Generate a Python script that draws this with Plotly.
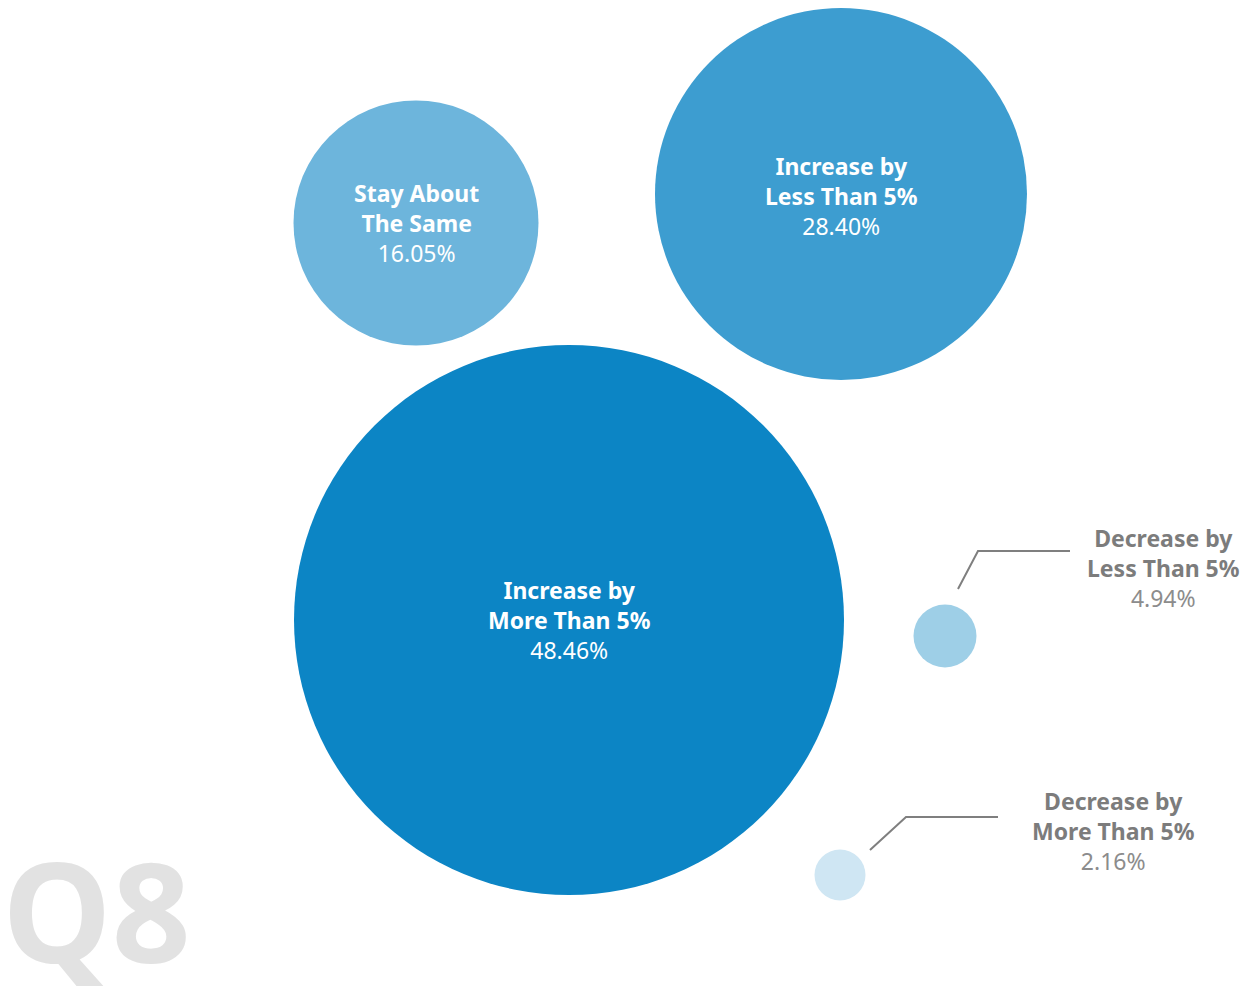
import plotly.graph_objects as go

# ---- data ----
labels = ["Increase by<br>More Than 5%", "Increase by<br>Less Than 5%", "Stay About<br>The Same",
          "Decrease by<br>Less Than 5%", "Decrease by<br>More Than 5%"]
values = [48.46, 28.40, 16.05, 4.94, 2.16]

# ---- layout (pixel space) ----
W, H = 1246, 994
bubble_x = [569, 841, 416, 945, 840]
bubble_y = [620, 194, 223, 636, 875]
label_dy = [0, 2, 0, 0, 0]
diameters = [550, 372, 245, 63, 51]
colors = ["#0c85c5", "#3d9dd0", "#6db5dc", "#9ecfe7", "#cfe6f3"]
inside = [True, True, True, False, False]
outside_label_xy = [None, None, None, (1163, 568), (1113, 831)]
leaders = [None, None, None, [(958, 589), (978, 551), (1070, 551)], [(870, 850), (906, 817), (998, 817)]]

FONT = "Noto Sans"
fig = go.Figure()

fig.add_annotation(x=0, y=813, xref="x", yref="y", text="<b>Q8</b>", showarrow=False,
                   font=dict(family="Open Sans", size=138, color="#e2e2e2", weight=800),
                   xanchor="left", yanchor="top")

fig.add_trace(go.Scatter(
    x=bubble_x, y=bubble_y, mode="markers",
    marker=dict(size=diameters, color=colors, line=dict(width=0), opacity=1),
    hoverinfo="skip", showlegend=False))

for i, (lab, v) in enumerate(zip(labels, values)):
    if inside[i]:
        fig.add_annotation(x=bubble_x[i], y=bubble_y[i] + label_dy[i], xref="x", yref="y",
                           text=f"<b>{lab}</b><br>{v:.2f}%", showarrow=False,
                           font=dict(family=FONT, size=23, color="white"),
                           align="center", xanchor="center", yanchor="middle")
    else:
        lx, ly = outside_label_xy[i]
        fig.add_annotation(x=lx, y=ly, xref="x", yref="y",
                           text=f"<b>{lab}</b><br><span style='color:#8c8c8c'>{v:.2f}%</span>",
                           showarrow=False,
                           font=dict(family=FONT, size=23, color="#7c7c7c"),
                           align="center", xanchor="center", yanchor="middle")
        pts = leaders[i]
        fig.add_trace(go.Scatter(x=[p[0] for p in pts], y=[p[1] for p in pts], mode="lines",
                                 line=dict(color="#7f7f7f", width=2), hoverinfo="skip", showlegend=False))

fig.update_xaxes(range=[0, W], visible=False, fixedrange=True)
fig.update_yaxes(range=[H, 0], visible=False, fixedrange=True)
fig.update_layout(width=W, height=H, margin=dict(l=0, r=0, t=0, b=0),
                  paper_bgcolor="white", plot_bgcolor="white")
fig.write_html("out.html")
